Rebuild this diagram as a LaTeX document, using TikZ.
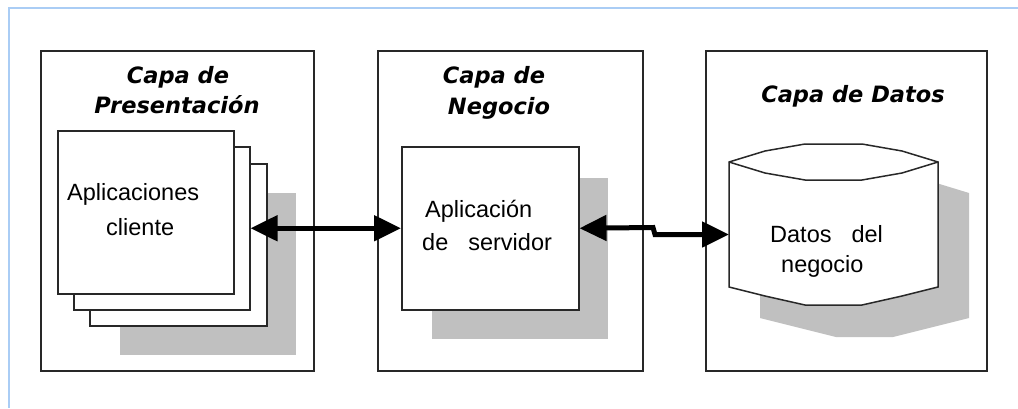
\documentclass[tikz,border=0pt]{standalone}
\usepackage{fontspec}
\setmainfont{Liberation Sans}
\newfontfamily\titlefont{DejaVu Sans}
\usetikzlibrary{arrows.meta,calc}
\definecolor{frameblue}{RGB}{170,205,245}
\definecolor{shadegray}{RGB}{192,192,192}
\definecolor{edge}{RGB}{40,40,40}
\begin{document}
\begin{tikzpicture}[x=1pt,y=-1pt,
  panel/.style={draw=edge,line width=2pt,fill=white,anchor=north west,inner sep=0pt},
  page/.style={draw=edge,line width=1.5pt,fill=white,anchor=north west,inner sep=0pt},
  shadowbox/.style={fill=shadegray,anchor=north west,inner sep=0pt},
  title/.style={font=\titlefont\bfseries\itshape\fontsize{22.5}{26}\selectfont,anchor=base,inner sep=0pt},
  body/.style={font=\fontsize{23.5}{27}\selectfont,anchor=base west,inner sep=0pt},
  link/.style={line width=5pt,{Triangle[length=27pt,width=25pt]}-{Triangle[length=27pt,width=25pt]}}
]
\useasboundingbox (0,0) rectangle (1018,408);
\fill[white] (0,0) rectangle (1018,408);
% outer frame (top and left edges visible)
\draw[frameblue,line width=2pt] (9,408) -- (9,8) -- (1018,8);

% panels
\node[panel,minimum width=273pt,minimum height=320pt] (p1) at (40,50) {};
\node[panel,minimum width=265pt,minimum height=320pt] (p2) at (377,50) {};
\node[panel,minimum width=281pt,minimum height=320pt] (p3) at (705,50) {};

% titles
\node[title] (t1a) at (178,83) {Capa de};
\node[title] (t1b) at (177,113) {Presentación};
\node[title] (t2a) at (494,83) {Capa de};
\node[title] (t2b) at (499,114) {Negocio};
\node[title] (t3) at (853,102) {Capa de Datos};

% presentation layer: stacked pages
\node[shadowbox,minimum width=176pt,minimum height=162pt] (sh1) at (120,193) {};
\node[page,minimum width=177pt,minimum height=162pt] (pg3) at (89,163) {};
\node[page,minimum width=176pt,minimum height=163pt] (pg2) at (73,146) {};
\node[page,minimum width=176pt,minimum height=163pt] (pg1) at (57,130) {};
\node[body] (a1) at (67,200) {Aplicaciones};
\node[body] (a2) at (106,235) {cliente};

% business layer
\node[shadowbox,minimum width=176pt,minimum height=161pt] (sh2) at (432,178) {};
\node[page,minimum width=177pt,minimum height=163pt] (srv) at (401,146) {};
\node[body] (b1) at (425,217) {Aplicación};
\node[body] (b2) at (422,250) {de\hspace{20pt}servidor};

% data layer: cylinder
\fill[shadegray] (760,193) -- (796,182) -- (836,175) -- (893,175) -- (933,182) -- (969,193)
   -- (969,318) -- (933,327) -- (893,337) -- (836,337) -- (796,327) -- (760,318) -- cycle;
\draw[edge,line width=1.5pt,fill=white] (729,162) -- (765,151) -- (805,144) -- (862,144) -- (902,151) -- (938,162)
   -- (938,287) -- (902,296) -- (862,305) -- (805,305) -- (765,296) -- (729,287) -- cycle;
\draw[edge,line width=1.5pt] (729,162) -- (765,173) -- (805,180) -- (862,180) -- (902,173) -- (938,162);
\node[inner sep=0pt,minimum width=209pt,minimum height=125pt,anchor=north west] (db) at (729,162) {};
\node[body] (c1) at (770,242) {Datos\hspace{20pt}del};
\node[body] (c2) at (781,272) {negocio};

% connectors
\draw[link] (pg2.east) -- (srv.west);
\draw[link] (srv.east) -- (653,227.5) -- (655,234.5) -- (db.west |- 0,234.5);
\end{tikzpicture}
\end{document}
